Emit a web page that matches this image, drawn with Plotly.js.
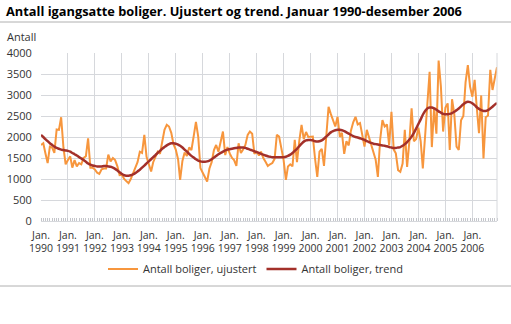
<!DOCTYPE html>
<html>
<head>
<meta charset="utf-8">
<script src="https://cdn.plot.ly/plotly-3.0.1.min.js"></script>
<style>html,body{margin:0;padding:0;background:#fff;}#chart{width:511px;height:324px;}</style>
</head>
<body>
<div id="chart"></div>
<script>
const years = [1990,1991,1992,1993,1994,1995,1996,1997,1998,1999,2000,2001,2002,2003,2004,2005,2006];
const tickLabels = years.map(y => 'Jan.<br>' + y);

// Antall boliger, ujustert (monthly, Jan 1990 - Dec 2006)
const ujustert = [
  1810,1850,1620,1380,1770,1750,1620,2180,2170,2470,1750,1350,
  1450,1540,1270,1450,1300,1380,1350,1500,1540,1970,1270,1270,
  1230,1150,1120,1230,1250,1250,1580,1420,1500,1450,1300,1090,
  1100,1000,950,900,1000,1150,1250,1400,1650,1620,2050,1530,
  1350,1180,1400,1550,1650,1600,1900,2170,2290,2250,2100,1830,
  1700,1470,980,1430,1630,1550,1750,1690,2020,2360,2010,1260,
  1150,1050,940,1250,1400,1690,1810,1650,1900,2130,1570,1760,
  1610,1500,1450,1310,1850,1620,1700,1810,2050,2130,2080,1600,
  1650,1560,1650,1500,1410,1310,1350,1380,1480,2050,2010,1770,
  1450,980,1300,1350,1300,1930,1400,1900,2290,1950,2120,2000,
  2000,2010,1500,1050,1650,1720,1310,1950,2720,2550,2400,2250,
  2480,2000,2100,1600,1900,1800,2150,2350,2480,2300,2330,2050,
  1770,2170,2000,1850,1610,1460,1050,1940,2400,2250,2300,1800,
  2600,1700,1610,1210,1170,1370,2170,1290,1900,2680,1900,1950,
  2220,1900,1250,2080,2640,3550,1760,2700,2080,3820,3200,2130,
  2700,2800,1690,2900,2550,1770,1690,2400,2500,3300,3710,3200,
  2960,3360,2720,2090,2990,1490,2470,2510,3600,3120,3400,3660
];

// Antall boliger, trend
const trend = [
  2050,2000,1950,1900,1850,1810,1770,1740,1720,1700,1690,1680,
  1670,1650,1620,1590,1560,1520,1490,1450,1410,1370,1340,1320,
  1310,1300,1300,1300,1310,1310,1300,1290,1270,1240,1200,1160,
  1120,1090,1080,1080,1090,1110,1140,1180,1220,1270,1320,1370,
  1420,1470,1520,1570,1620,1670,1720,1760,1800,1830,1850,1850,
  1840,1820,1790,1750,1700,1650,1600,1550,1510,1470,1440,1420,
  1410,1410,1420,1440,1470,1510,1550,1590,1620,1650,1680,1700,
  1710,1720,1730,1740,1750,1750,1750,1740,1720,1700,1680,1660,
  1640,1620,1600,1580,1560,1540,1530,1520,1520,1520,1520,1520,
  1520,1530,1550,1580,1620,1670,1720,1780,1840,1890,1920,1930,
  1930,1920,1900,1890,1900,1920,1960,2010,2060,2110,2140,2160,
  2170,2170,2160,2140,2110,2080,2050,2020,2000,1990,1970,1950,
  1930,1900,1880,1860,1840,1830,1820,1810,1800,1790,1780,1760,
  1750,1740,1740,1750,1760,1790,1830,1880,1940,2010,2100,2200,
  2310,2420,2530,2620,2680,2700,2700,2680,2650,2610,2580,2550,
  2540,2540,2550,2570,2600,2640,2680,2730,2780,2820,2840,2830,
  2800,2760,2710,2670,2640,2620,2620,2640,2680,2720,2770,2810
];

const months = [];
years.forEach(y => { for (let m = 1; m <= 12; m++) months.push(y + '-' + String(m).padStart(2,'0') + '-01'); });
const tickVals = years.map(y => y + '-01-01');

const font = "'Open Sans', 'DejaVu Sans', sans-serif";
const W = 511, H = 324, L = 41, R = 14, T = 53, B = 103;
const pw = W - L - R, ph = H - T - B;
const px = x => (x - L) / pw;
const py = y => (H - B - y) / ph;

const data = [
  {x: months, y: ujustert, type: 'scatter', mode: 'lines', name: 'Antall boliger, ujustert',
   line: {color: '#f7963d', width: 2}},
  {x: months, y: trend, type: 'scatter', mode: 'lines', name: 'Antall boliger, trend',
   line: {color: '#a3302a', width: 2.5, shape: 'spline'}}
];

const layout = {
  width: W, height: H,
  margin: {l: L, r: R, t: T, b: B},
  paper_bgcolor: '#fff', plot_bgcolor: '#fff',
  font: {family: font, size: 11, color: '#333'},
  title: {text: 'Antall igangsatte boliger. Ujustert og trend. Januar 1990-desember 2006',
          font: {family: font, size: 12.8, color: '#000', weight: 'bold'},
          xref: 'container', yref: 'container', x: 6/W, y: 1 - 12/H, xanchor: 'left', yanchor: 'middle'},
  xaxis: {type: 'date', range: ['1990-01-01', '2006-12-01'],
          tickmode: 'array', tickvals: tickVals, ticktext: tickLabels,
          tickfont: {size: 10.5, color: '#333'}, ticks: 'outside', ticklen: 4, tickcolor: 'rgba(0,0,0,0)',
          showgrid: true, gridcolor: '#d6d8dc', gridwidth: 1,
          showline: true, linecolor: '#d6d8dc', mirror: false, zeroline: false, fixedrange: true,
          minor: {dtick: 'M1', ticks: 'inside', ticklen: 3, tickcolor: '#c3c5ca', showgrid: false}},
  yaxis: {range: [0, 4000], dtick: 500, tick0: 0, showgrid: true, gridcolor: '#d6d8dc', gridwidth: 1,
          zeroline: false, ticks: 'outside', ticklen: 6, tickcolor: 'rgba(0,0,0,0)',
          tickfont: {size: 11, color: '#333'}, fixedrange: true},
  showlegend: true,
  legend: {orientation: 'h', xref: 'container', yref: 'container', x: 0.5, xanchor: 'center',
           y: 1 - 269/H, yanchor: 'middle', font: {size: 11, color: '#333'}, itemwidth: 30},
  shapes: [
    {type: 'line', xref: 'paper', yref: 'paper', x0: px(0), x1: px(W), y0: py(22), y1: py(22), line: {color: '#b0b0b0', width: 1}},
    {type: 'line', xref: 'paper', yref: 'paper', x0: px(0), x1: px(W), y0: py(286), y1: py(286), line: {color: '#b0b0b0', width: 1}},
    {type: 'line', xref: 'paper', yref: 'paper', x0: 1, x1: 1, y0: 0, y1: 1, line: {color: '#d6d8dc', width: 1}}
  ],
  annotations: [
    {text: 'Antall', xref: 'paper', yref: 'paper', x: px(5), y: py(37), xanchor: 'left', yanchor: 'middle',
     showarrow: false, font: {size: 11, color: '#333'}}
  ]
};

Plotly.newPlot('chart', data, layout, {displayModeBar: false, staticPlot: true});
</script>
</body>
</html>
